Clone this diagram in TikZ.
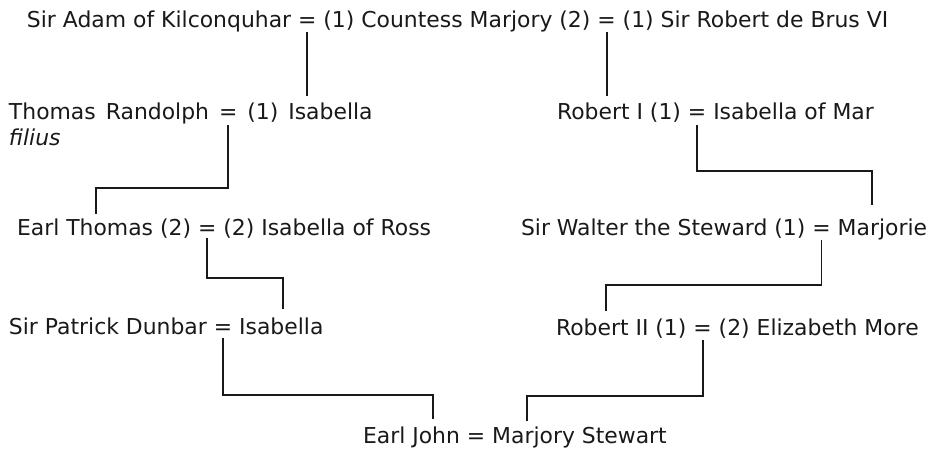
\documentclass[tikz,border=0pt]{standalone}
\usepackage{fontspec}
\setmainfont{DejaVu Sans}
\usetikzlibrary{calc}
\newcommand{\spousesign}{\mbox{}\ =\ \mbox{}}
\begin{document}
\begin{tikzpicture}[x=1pt,y=-1pt,
  font=\fontsize{21.9}{26}\selectfont,
  person/.style={inner sep=0pt, outer sep=0pt, anchor=base west, text=black!90},
  link/.style={line width=1.8pt, draw=black!90}]
\useasboundingbox (0,0) rectangle (933,450);

% generation 1
\node[person] (adam) at (27,27) {Sir Adam of Kilconquhar};
\node[person] (e1) at (adam.base east) {\spousesign};
\node[person] (marjory) at (e1.base east) {(1) Countess Marjory (2)};
\node[person] (e2) at (marjory.base east) {\spousesign};
\node[person] (brus) at (e2.base east) {(1) Sir Robert de Brus VI};

% generation 2
\node[person] (randolph) at (9,119) {Thomas\hspace{10pt}Randolph};
\node[person] (eT) at (randolph.base east) {\mbox{}\hspace{10pt}=\hspace{10pt}\mbox{}};
\node[person] (isab1) at (eT.base east) {(1)\hspace{10pt}Isabella};
\node[person] (filius) at (9,145) {\itshape filius};
\node[person] (robI) at (557,119) {Robert I (1)};
\node[person] (eR) at (robI.base east) {\spousesign};
\node[person] (mar) at (eR.base east) {Isabella of Mar};

% generation 3
\node[person] (thomasE) at (17,235) {Earl Thomas (2)};
\node[person] (eE) at (thomasE.base east) {\spousesign};
\node[person] (ross) at (eE.base east) {(2) Isabella of Ross};
\node[person] (walter) at (521,235) {Sir Walter the Steward (1)};
\node[person] (eW) at (walter.base east) {\spousesign};
\node[person] (marj) at (eW.base east) {Marjorie};

% generation 4
\node[person] (dunbar) at (9,334) {Sir Patrick Dunbar};
\node[person] (eD) at (dunbar.base east) {\spousesign};
\node[person] (isab2) at (eD.base east) {Isabella};
\node[person] (robII) at (556,335) {Robert II (1)};
\node[person] (eB) at (robII.base east) {\spousesign};
\node[person] (more) at (eB.base east) {(2) Elizabeth More};

% generation 5
\node[person] (john) at (363,443) {Earl John};
\node[person] (eJ) at (john.base east) {\spousesign};
\node[person] (stewart) at (eJ.base east) {Marjory Stewart};

% descent lines
\draw[link] ($(e1.south)+(0,5)$) -- ($(e1.south |- isab1.north)+(0,-6)$);
\draw[link] ($(e2.south)+(0,5)$) -- ($(e2.south |- robI.north)+(0,-6)$);
\draw[link] ($(eT.south)+(0,6)$) |- ($(thomasE.north west)+(79,-30)$) -- ++(0,26);
\draw[link] ($(eR.south)+(0,6)$) |- ($(marj.north west)+(34,-47)$) -- ++(0,34);
\draw[link] ($(eE.south)+(0,3)$) |- ($(isab2.north west)+(44,-39)$) -- ++(0,31);
\draw[link] ($(eW.south)+(0,5)$) |- ($(robII.north west)+(50,-33)$) -- ++(0,26);
\draw[link] ($(eD.south)+(0,4)$) |- ($(john.north west)+(70,-31)$) -- ++(0,24);
\draw[link] ($(eB.south)+(0,5)$) |- ($(stewart.north west)+(35,-30)$) -- ++(0,25);
\end{tikzpicture}
\end{document}
